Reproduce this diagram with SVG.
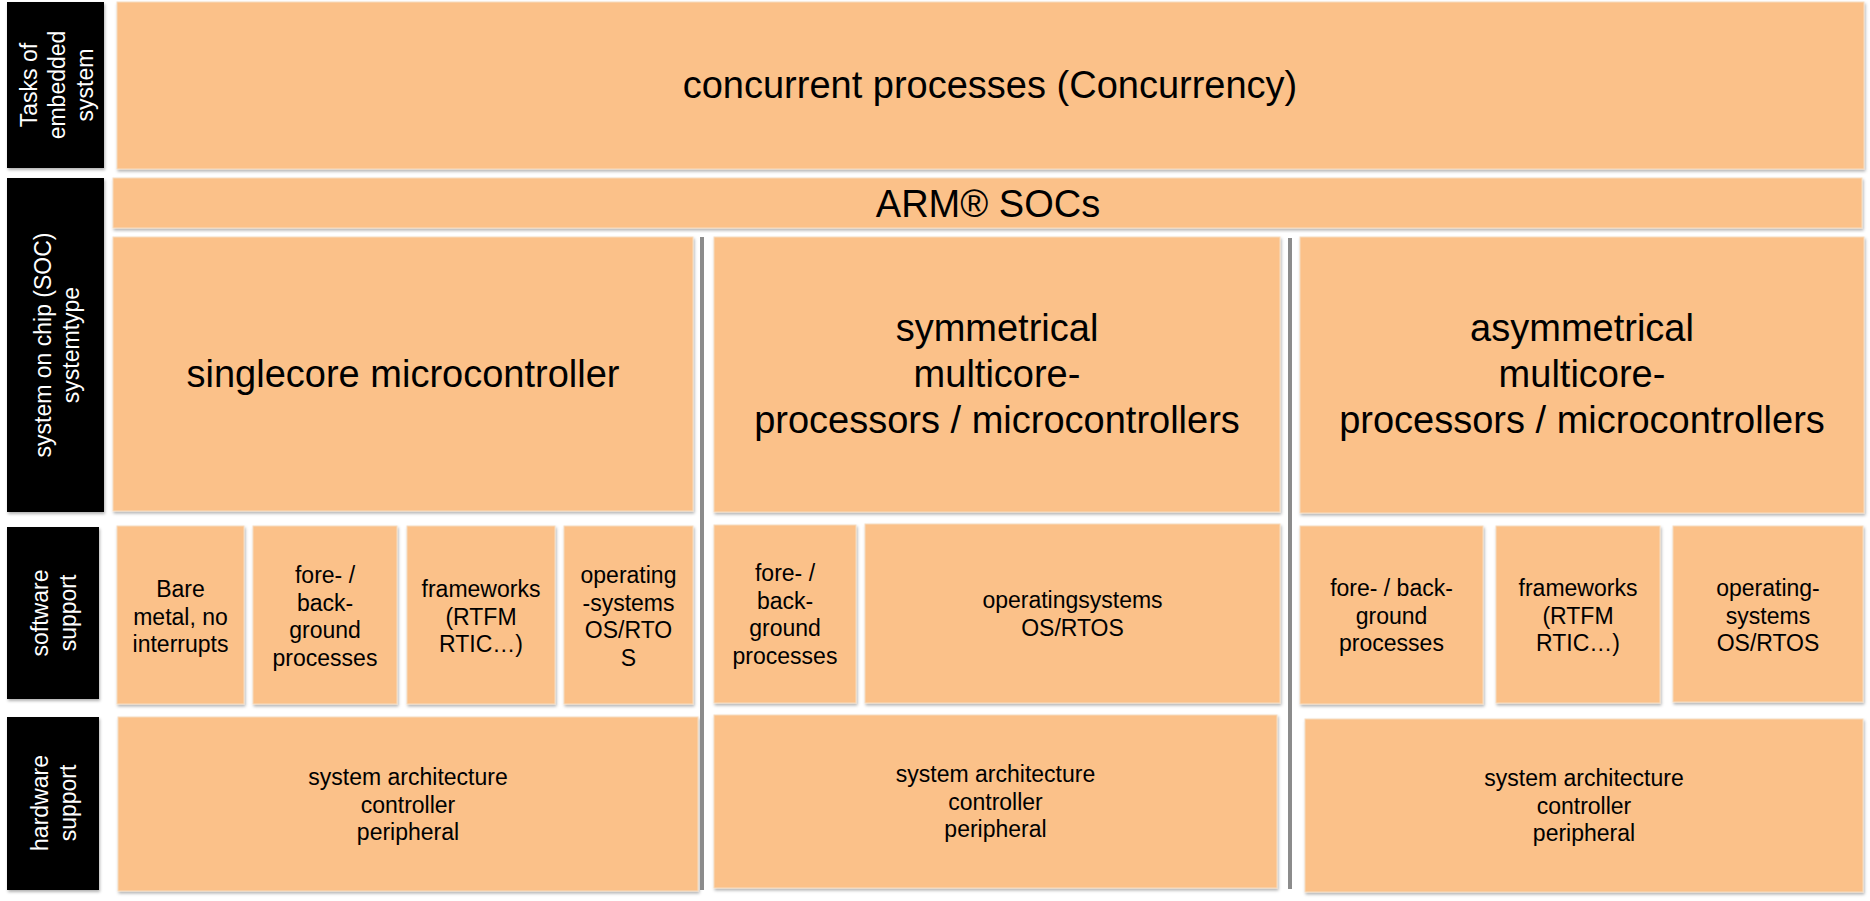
<svg xmlns="http://www.w3.org/2000/svg" width="1870" height="901" viewBox="0 0 1870 901">
<style>
.box{fill:#FBC189;stroke:#f6dcc0;stroke-width:1;filter:url(#sh)}
.lab{fill:#000;filter:url(#sh)}
.lt{font-family:"Liberation Sans",Arial,sans-serif;font-size:23px;fill:#fff;text-anchor:middle}
.big{font-family:"Liberation Sans",Arial,sans-serif;font-size:38px;fill:#000;text-anchor:middle}
.sm{font-family:"Liberation Sans",Arial,sans-serif;font-size:23px;fill:#000;text-anchor:middle}
.sep{stroke:#8c8c8c;stroke-width:4}
</style>
<defs>
<filter id="sh" x="-5%" y="-5%" width="110%" height="115%">
<feDropShadow dx="1" dy="2" stdDeviation="1.5" flood-color="#000" flood-opacity="0.3"/>
</filter>
</defs>
<rect width="1870" height="901" fill="#fff"/>

<g id="label-tasks">
<rect class="lab" x="7" y="2" width="97" height="166"/>
<text class="lt" transform="translate(55.5,85) rotate(-90)"><tspan x="0" y="-19">Tasks of</tspan><tspan x="0" y="9">embedded</tspan><tspan x="0" y="37">system</tspan></text>
</g>
<g id="label-soc">
<rect class="lab" x="7" y="178" width="97" height="334"/>
<text class="lt" transform="translate(55.5,345) rotate(-90)"><tspan x="0" y="-5">system on chip (SOC)</tspan><tspan x="0" y="23">systemtype</tspan></text>
</g>
<g id="label-software">
<rect class="lab" x="7" y="527" width="92" height="172"/>
<text class="lt" transform="translate(53,613) rotate(-90)"><tspan x="0" y="-5">software</tspan><tspan x="0" y="23">support</tspan></text>
</g>
<g id="label-hardware">
<rect class="lab" x="7" y="717" width="92" height="173"/>
<text class="lt" transform="translate(53,803) rotate(-90)"><tspan x="0" y="-5">hardware</tspan><tspan x="0" y="23">support</tspan></text>
</g>

<g id="concurrent">
<rect class="box" x="117" y="2" width="1747" height="167"/>
<text class="big" x="990" y="98">concurrent processes (Concurrency)</text>
</g>
<g id="arm-socs">
<rect class="box" x="113" y="178" width="1749" height="50"/>
<text class="big" x="988" y="217">ARM® SOCs</text>
</g>

<g id="singlecore">
<rect class="box" x="113" y="237" width="580" height="274"/>
<text class="big" x="403" y="387">singlecore microcontroller</text>
</g>
<g id="symmetrical">
<rect class="box" x="714" y="237" width="566" height="275"/>
<text class="big" x="997" y="341"><tspan x="997">symmetrical</tspan><tspan x="997" dy="46">multicore-</tspan><tspan x="997" dy="46">processors / microcontrollers</tspan></text>
</g>
<g id="asymmetrical">
<rect class="box" x="1300" y="237" width="564" height="276"/>
<text class="big" x="1582" y="341"><tspan x="1582">asymmetrical</tspan><tspan x="1582" dy="46">multicore-</tspan><tspan x="1582" dy="46">processors / microcontrollers</tspan></text>
</g>

<g id="sc-bare-metal">
<rect class="box" x="117" y="526" width="127" height="178"/>
<text class="sm" y="597"><tspan x="180.5">Bare</tspan><tspan x="180.5" dy="27.6">metal, no</tspan><tspan x="180.5" dy="27.6">interrupts</tspan></text>
</g>
<g id="sc-fore-back">
<rect class="box" x="253" y="526" width="144" height="178"/>
<text class="sm" y="583"><tspan x="325">fore- /</tspan><tspan x="325" dy="27.6">back-</tspan><tspan x="325" dy="27.6">ground</tspan><tspan x="325" dy="27.6">processes</tspan></text>
</g>
<g id="sc-frameworks">
<rect class="box" x="407" y="526" width="148" height="178"/>
<text class="sm" y="597"><tspan x="481">frameworks</tspan><tspan x="481" dy="27.6">(RTFM</tspan><tspan x="481" dy="27.6">RTIC…)</tspan></text>
</g>
<g id="sc-os">
<rect class="box" x="564" y="526" width="129" height="178"/>
<text class="sm" y="583"><tspan x="628.5">operating</tspan><tspan x="628.5" dy="27.6">-systems</tspan><tspan x="628.5" dy="27.6">OS/RTO</tspan><tspan x="628.5" dy="27.6">S</tspan></text>
</g>

<g id="sym-fore-back">
<rect class="box" x="714" y="525" width="142" height="178"/>
<text class="sm" y="581"><tspan x="785">fore- /</tspan><tspan x="785" dy="27.6">back-</tspan><tspan x="785" dy="27.6">ground</tspan><tspan x="785" dy="27.6">processes</tspan></text>
</g>
<g id="sym-os">
<rect class="box" x="865" y="524" width="415" height="179"/>
<text class="sm" y="608"><tspan x="1072.5">operatingsystems</tspan><tspan x="1072.5" dy="27.6">OS/RTOS</tspan></text>
</g>

<g id="asym-fore-back">
<rect class="box" x="1300" y="526" width="183" height="178"/>
<text class="sm" y="596"><tspan x="1391.5">fore- / back-</tspan><tspan x="1391.5" dy="27.6">ground</tspan><tspan x="1391.5" dy="27.6">processes</tspan></text>
</g>
<g id="asym-frameworks">
<rect class="box" x="1496" y="526" width="164" height="177"/>
<text class="sm" y="596"><tspan x="1578">frameworks</tspan><tspan x="1578" dy="27.6">(RTFM</tspan><tspan x="1578" dy="27.6">RTIC…)</tspan></text>
</g>
<g id="asym-os">
<rect class="box" x="1673" y="526" width="190" height="176"/>
<text class="sm" y="596"><tspan x="1768">operating-</tspan><tspan x="1768" dy="27.6">systems</tspan><tspan x="1768" dy="27.6">OS/RTOS</tspan></text>
</g>

<g id="sc-hardware">
<rect class="box" x="118" y="717" width="580" height="174"/>
<text class="sm" y="785"><tspan x="408">system architecture</tspan><tspan x="408" dy="27.6">controller</tspan><tspan x="408" dy="27.6">peripheral</tspan></text>
</g>
<g id="sym-hardware">
<rect class="box" x="714" y="715" width="563" height="173"/>
<text class="sm" y="782"><tspan x="995.5">system architecture</tspan><tspan x="995.5" dy="27.6">controller</tspan><tspan x="995.5" dy="27.6">peripheral</tspan></text>
</g>
<g id="asym-hardware">
<rect class="box" x="1305" y="719" width="558" height="173"/>
<text class="sm" y="786"><tspan x="1584">system architecture</tspan><tspan x="1584" dy="27.6">controller</tspan><tspan x="1584" dy="27.6">peripheral</tspan></text>
</g>

<g id="connectors">
<line class="sep" x1="702" y1="237" x2="702" y2="890"/>
<line class="sep" x1="1290" y1="238" x2="1290" y2="889"/>
</g>
</svg>
